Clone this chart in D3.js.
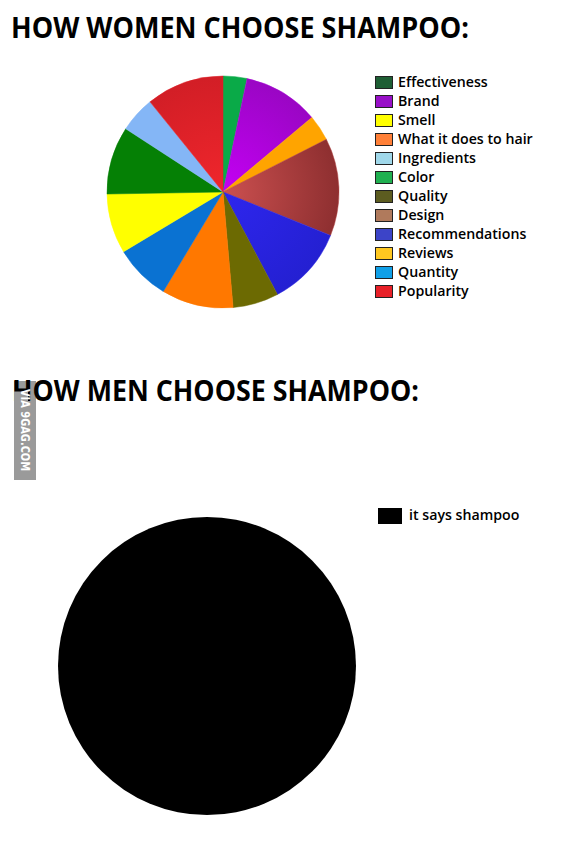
<!DOCTYPE html>
<html>
<head>
<meta charset="utf-8">
<script src="https://cdn.jsdelivr.net/npm/d3@7"></script>
<style>
  html, body { margin: 0; padding: 0; background: #fff; }
  svg { display: block; }
</style>
</head>
<body>
<svg id="chart" width="571" height="863"></svg>
<script>
// ---------- DATA ----------
const womenTitle = "HOW WOMEN CHOOSE SHAMPOO:";
const menTitle = "HOW MEN CHOOSE SHAMPOO:";
const watermark = "VIA 9GAG.COM";

// legend order
const categories = ["Effectiveness", "Brand", "Smell", "What it does to hair", "Ingredients", "Color",
  "Quality", "Design", "Recommendations", "Reviews", "Quantity", "Popularity"];
// share of the pie (degrees), legend order
const values = [34, 38, 30, 36, 18, 12, 23, 49, 40, 13, 28, 39];
// clockwise order of slices starting at 12 o'clock
const sliceOrder = ["Color", "Brand", "Reviews", "Design", "Recommendations", "Quality",
  "What it does to hair", "Quantity", "Smell", "Effectiveness", "Ingredients", "Popularity"];

const menCategories = ["it says shampoo"];
const menValues = [100];

// ---------- STYLES ----------
const sliceColors = {
  "Effectiveness": "#058005", "Brand": "#a806d8", "Smell": "#ffff00", "What it does to hair": "#ff7800",
  "Ingredients": "#84b6f6", "Color": "#0aaa48", "Quality": "#6c6a02", "Design": "#b03e3e",
  "Recommendations": "#2a24e2", "Reviews": "#ffa400", "Quantity": "#0a72d2", "Popularity": "#e0222a"
};
const swatchColors = {
  "Effectiveness": "#1e5e34", "Brand": "#9810c8", "Smell": "#ffff00", "What it does to hair": "#ff8038",
  "Ingredients": "#a0d8ea", "Color": "#20b050", "Quality": "#5c5c20", "Design": "#b07a5c",
  "Recommendations": "#3c44c8", "Reviews": "#ffc820", "Quantity": "#10a0e8", "Popularity": "#e82028"
};

const svg = d3.select("#chart");
const defs = svg.append("defs");

// gradients for shaded slices
function radGrad(id, inner, outer) {
  const g = defs.append("radialGradient").attr("id", id)
    .attr("gradientUnits", "userSpaceOnUse").attr("cx", 0).attr("cy", 0).attr("r", 116);
  g.append("stop").attr("offset", "0%").attr("stop-color", inner);
  g.append("stop").attr("offset", "100%").attr("stop-color", outer);
}
radGrad("g-Design", "#cc5050", "#8e2f30");
radGrad("g-Brand", "#c400f4", "#9a06c4");
radGrad("g-Popularity", "#f0262c", "#d21e26");
radGrad("g-Recommendations", "#2e26ee", "#2420d2");
const gradFor = { "Design": "url(#g-Design)", "Brand": "url(#g-Brand)", "Popularity": "url(#g-Popularity)", "Recommendations": "url(#g-Recommendations)" };

const titleFont = "'Open Sans', 'DejaVu Sans', sans-serif";

// ---------- WOMEN ----------
svg.append("text")
  .attr("x", 11).attr("y", 38)
  .attr("font-family", titleFont).attr("font-weight", 700).attr("font-size", 28)
  .attr("textLength", 458).attr("lengthAdjust", "spacingAndGlyphs")
  .attr("fill", "#000")
  .text(womenTitle);

const valueOf = new Map(categories.map((c, i) => [c, values[i]]));
const pieData = sliceOrder.map(c => ({ name: c, value: valueOf.get(c) }));

const pie = d3.pie().sort(null).value(d => d.value);
const arcW = d3.arc().innerRadius(0).outerRadius(116);

const gW = svg.append("g").attr("transform", "translate(223,192)");
gW.selectAll("path").data(pie(pieData)).join("path")
  .attr("d", arcW)
  .attr("fill", d => gradFor[d.data.name] || sliceColors[d.data.name])
  .attr("stroke", d => sliceColors[d.data.name])
  .attr("stroke-width", 0.5);

const legendScale = d3.scalePoint().domain(categories).range([86.5, 295.5]);
const legW = svg.append("g");
const rows = legW.selectAll("g").data(categories).join("g")
  .attr("transform", d => `translate(0,${legendScale(d)})`);
rows.append("rect")
  .attr("x", 375.5).attr("y", -10).attr("width", 17).attr("height", 12)
  .attr("fill", d => swatchColors[d])
  .attr("stroke", "#222").attr("stroke-width", 1);
rows.append("text")
  .attr("x", 398).attr("y", 0)
  .attr("font-family", titleFont).attr("font-weight", 600).attr("font-size", 14.2)
  .attr("fill", "#000")
  .text(d => d);

// ---------- MEN ----------
// watermark box (behind the title's H)
svg.append("rect").attr("x", 14).attr("y", 381).attr("width", 22).attr("height", 99).attr("fill", "#9a9a9a");

svg.append("text")
  .attr("x", 12).attr("y", 401)
  .attr("font-family", titleFont).attr("font-weight", 700).attr("font-size", 28)
  .attr("textLength", 407).attr("lengthAdjust", "spacingAndGlyphs")
  .attr("fill", "#000")
  .text(menTitle);

// part of the watermark that sits over the H's lower-left
svg.append("rect").attr("x", 14).attr("y", 391.5).attr("width", 14).attr("height", 12).attr("fill", "#9a9a9a");
svg.append("text")
  .attr("transform", "translate(25,430) rotate(90)")
  .attr("text-anchor", "middle").attr("dominant-baseline", "central")
  .attr("font-family", "'DejaVu Sans', sans-serif").attr("font-weight", 700).attr("font-size", 12.5)
  .attr("textLength", 82).attr("lengthAdjust", "spacingAndGlyphs")
  .attr("fill", "#fff")
  .text(watermark);

const menPieData = menCategories.map((c, i) => ({ name: c, value: menValues[i] }));
const arcM = d3.arc().innerRadius(0).outerRadius(149);
svg.append("g").attr("transform", "translate(207,666)")
  .selectAll("path").data(pie(menPieData)).join("path")
  .attr("d", arcM).attr("fill", "#000");

const legM = svg.append("g").selectAll("g").data(menCategories).join("g")
  .attr("transform", "translate(0,520)");
legM.append("rect").attr("x", 378).attr("y", -12).attr("width", 24).attr("height", 16).attr("fill", "#000");
legM.append("text")
  .attr("x", 409).attr("y", 0)
  .attr("font-family", titleFont).attr("font-weight", 600).attr("font-size", 14.2)
  .attr("fill", "#000")
  .text(d => d);
</script>
</body>
</html>
